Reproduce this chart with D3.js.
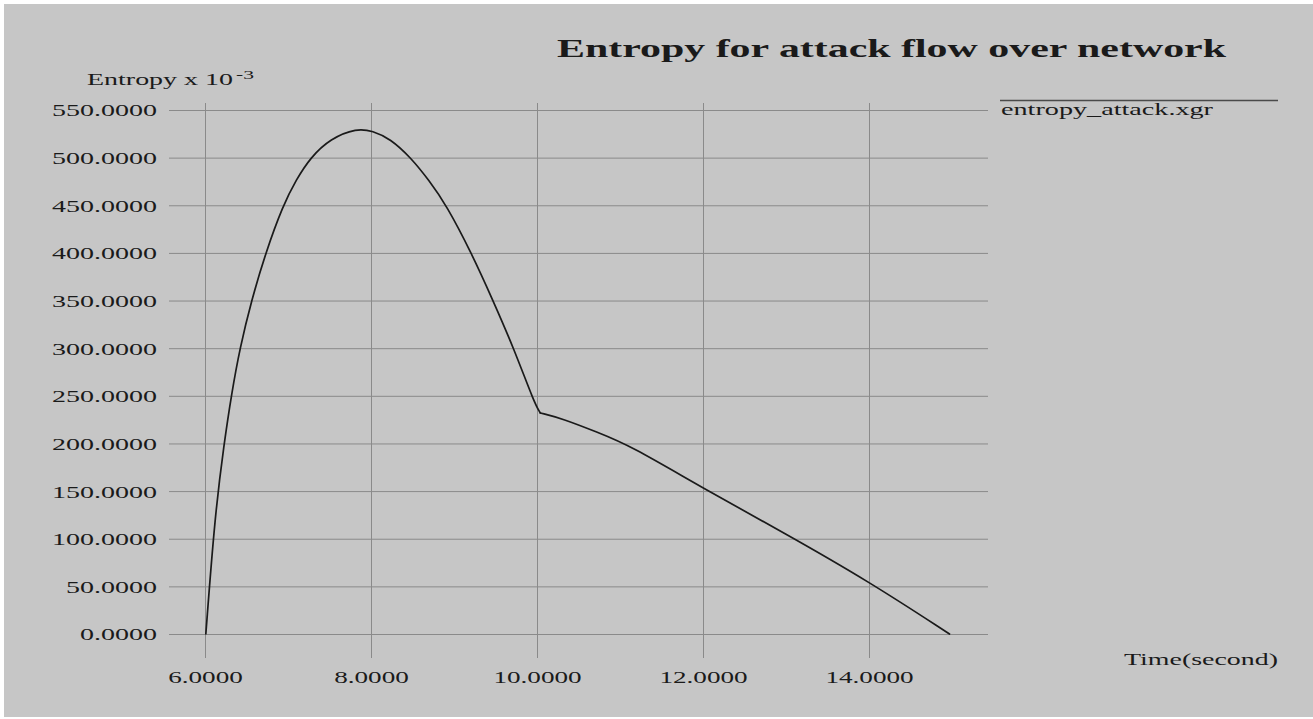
<!DOCTYPE html>
<html>
<head>
<meta charset="utf-8">
<script src="https://d3js.org/d3.v7.min.js"></script>
<style>
  body { margin: 0; background: #ffffff; }
  svg { display: block; }
  .grid line { stroke: #8a8a8a; stroke-width: 1; }
  .grid .domain { display: none; }
  text { font-family: "Liberation Serif", "Times New Roman", serif; fill: #1a1a1a; }
</style>
</head>
<body>
<div id="chart"></div>
<script>
// values
var timeValues    = [6.01, 6.12, 6.23, 6.32, 6.42, 6.56, 6.73, 6.94, 7.10, 7.27, 7.51, 7.83, 8.02, 8.23, 8.48, 8.70, 8.91, 9.21, 9.47, 9.72, 9.97, 10.04, 10.31, 10.72, 11.12, 12.00, 13.00, 14.00, 14.97];
var entropyValues = [0,    125,  200,  252,  300,  350,  400,  450,  477,  500,  520,  531,  528,  520,  500,  476,  450,  400,  350,  300,  242,  232,   226,   212,   198,   153,   105,   55,    0];
var cornerTime = 10.04;   // the curve breaks sharply here
var xTicks = [6, 8, 10, 12, 14];
var yTicks = [0, 50, 100, 150, 200, 250, 300, 350, 400, 450, 500, 550];
var titleText = "Entropy for attack flow over network";
var yLabel = "Entropy x 10";
var yLabelExp = "-3";
var xLabel = "Time(second)";
var legendName = "entropy_attack.xgr";

var W = 1313, H = 719;
var gridLeft = 169, gridRight = 988, gridTop = 103, gridBottom = 658;

var data = timeValues.map(function(t, i) { return { t: t, e: entropyValues[i] }; });
var pieces = [
    data.filter(function(d) { return d.t <= cornerTime; }),
    data.filter(function(d) { return d.t >= cornerTime; })
];

var svg = d3.select("#chart").append("svg")
    .attr("width", W)
    .attr("height", H);

svg.append("rect")
    .attr("x", 4).attr("y", 4)
    .attr("width", W - 4).attr("height", H - 6)
    .attr("fill", "#c6c6c6");

var x = d3.scaleLinear().domain([6, 14]).range([205, 869]);
var y = d3.scaleLinear().domain([0, 550]).range([634, 110]);

// stretch text horizontally, the original font is wide
function stretch(sel, f) {
    sel.each(function() {
        var w = this.getComputedTextLength();
        d3.select(this).attr("textLength", w * f).attr("lengthAdjust", "spacingAndGlyphs");
    });
}
function fitTo(sel, width) {
    sel.attr("textLength", width).attr("lengthAdjust", "spacingAndGlyphs");
}

// horizontal grid + y labels
var yAxis = d3.axisLeft(y)
    .tickValues(yTicks)
    .tickSize(-(gridRight - gridLeft))
    .tickPadding(12)
    .tickFormat(d3.format(".4f"));

var gy = svg.append("g")
    .attr("class", "grid")
    .attr("transform", "translate(" + gridLeft + ",0)")
    .call(yAxis);

gy.selectAll("text")
    .attr("font-size", 17)
    .attr("font-family", "Liberation Serif")
    .attr("fill", "#1a1a1a")
    .attr("dy", "0.35em");

// vertical grid + x labels
var xAxis = d3.axisBottom(x)
    .tickValues(xTicks)
    .tickSize(-(gridBottom - gridTop))
    .tickPadding(13)
    .tickFormat(d3.format(".4f"));

var gx = svg.append("g")
    .attr("class", "grid")
    .attr("transform", "translate(0," + gridBottom + ")")
    .call(xAxis);

gx.selectAll("text")
    .attr("font-size", 17)
    .attr("font-family", "Liberation Serif")
    .attr("fill", "#1a1a1a");

// work out how wide the labels should be
var probe = gy.selectAll(".tick").filter(function(d) { return d === 550; }).select("text");
var factor = 105 / probe.node().getComputedTextLength();
stretch(gy.selectAll("text"), factor);
stretch(gx.selectAll("text"), factor * 0.97);

// the curve, smoothed, in two pieces so the corner stays sharp
var line = d3.line()
    .x(function(d) { return x(d.t); })
    .y(function(d) { return y(d.e); })
    .curve(d3.curveBasis);

svg.append("g").selectAll("path")
    .data(pieces)
    .enter().append("path")
    .attr("fill", "none")
    .attr("stroke", "#1a1a1a")
    .attr("stroke-width", 1.7)
    .attr("stroke-linejoin", "round")
    .attr("stroke-linecap", "round")
    .attr("d", line);

// title
var title = svg.append("text")
    .attr("x", 557)
    .attr("y", 57)
    .attr("font-size", 26)
    .attr("font-weight", "bold")
    .text(titleText);
fitTo(title, 669);

// y axis label
var yl = svg.append("text")
    .attr("x", 87)
    .attr("y", 85)
    .attr("font-size", 16)
    .text(yLabel);
fitTo(yl, 146);

var ye = svg.append("text")
    .attr("x", 236)
    .attr("y", 79)
    .attr("font-size", 13)
    .text(yLabelExp);
fitTo(ye, 18);

// x axis label
var xl = svg.append("text")
    .attr("x", 1124)
    .attr("y", 665)
    .attr("font-size", 17)
    .text(xLabel);
fitTo(xl, 154);

// legend
svg.append("line")
    .attr("x1", 1000)
    .attr("x2", 1278)
    .attr("y1", 100.5)
    .attr("y2", 100.5)
    .attr("stroke", "#4a4a4a")
    .attr("stroke-width", 1.5);

var lg = svg.append("text")
    .attr("x", 1001)
    .attr("y", 115)
    .attr("font-size", 17)
    .text(legendName);
fitTo(lg, 212);
</script>
</body>
</html>
